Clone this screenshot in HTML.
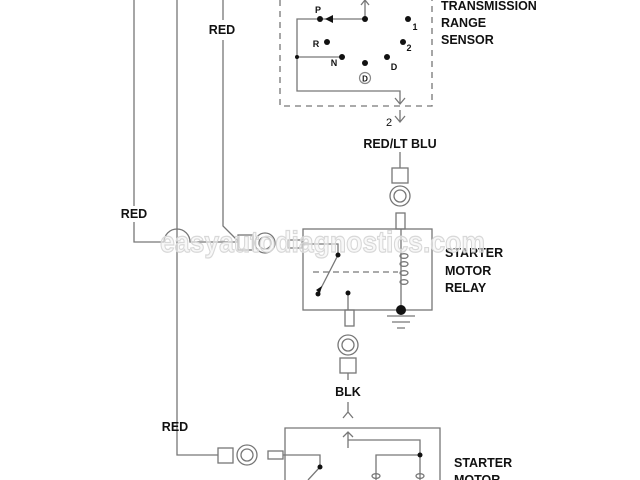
<!DOCTYPE html>
<html><head><meta charset="utf-8"><style>
html,body{margin:0;padding:0;background:#fff;}
svg{display:block;}
text{font-family:"Liberation Sans",Arial,sans-serif;font-weight:bold;fill:#111;}
</style></head><body>
<svg width="640" height="480" viewBox="0 0 640 480" xmlns="http://www.w3.org/2000/svg">
<g stroke="#777" stroke-width="1.3" fill="none">
<path d="M134 0 V206 M134 222 V242 H164"/>
<path d="M164 242 A13 13 0 0 1 190 242 H238"/>
<path d="M177 0 V455 H218"/>
<path d="M223 0 V20 M223 40 V226 L238 241"/>
<path d="M280 0 V106 H432 V0" stroke-dasharray="6,5"/>
<path d="M365 0 V19 H297 V91 H400 V104"/>
<path d="M297 57 H342"/>
<path d="M361 5 L365 0 L369 5"/>
<path d="M395 98 L400 104 L405 98"/>
<path d="M400 110 V122 M395 116 L400 122 L405 116"/>
<path d="M400 152 V168"/>
<rect x="392" y="168" width="16" height="15"/>
<circle cx="400" cy="196" r="10"/><circle cx="400" cy="196" r="6"/>
<rect x="396" y="213" width="9" height="16"/>
<rect x="303" y="229" width="129" height="81"/>
<rect x="238" y="235" width="15" height="15"/>
<circle cx="265" cy="243" r="10"/><circle cx="265" cy="243" r="6"/>
<rect x="288" y="240" width="14" height="8"/>
<path d="M302 244 H338 V255 L318 294"/>
<path d="M313 272 H398" stroke-dasharray="6,4"/>
<path d="M348 293 V310"/>
<path d="M401 229 V310"/>
<ellipse cx="404" cy="256" rx="4" ry="2.3"/><ellipse cx="404" cy="264" rx="4" ry="2.3"/>
<ellipse cx="404" cy="273" rx="4" ry="2.3"/><ellipse cx="404" cy="282" rx="4" ry="2.3"/>
<path d="M387 316 H415 M392 322 H410 M397 328 H405"/>
<rect x="345" y="310" width="9" height="16"/>
<circle cx="348" cy="345" r="10"/><circle cx="348" cy="345" r="6"/>
<rect x="340" y="358" width="16" height="15"/>
<path d="M348 373 V380"/>
<path d="M348 402 V412 M343 418 L348 412 L353 418"/>
<path d="M285 480 V428 H440 V480"/>
<path d="M348 448 V432 M343 437 L348 432 L353 437 M348 440 H420 V455 H376 V480"/>
<path d="M420 455 V480"/>
<rect x="218" y="448" width="15" height="15"/>
<circle cx="247" cy="455" r="10"/><circle cx="247" cy="455" r="6"/>
<rect x="268" y="451" width="15" height="8"/>
<path d="M283 455 H320 V467 L308 480"/>
<ellipse cx="376" cy="476" rx="4" ry="2.3"/><ellipse cx="420" cy="476" rx="4" ry="2.3"/>
</g>
<g fill="#111">
<circle cx="320" cy="19" r="3"/><circle cx="365" cy="19" r="3"/><circle cx="297" cy="57" r="2"/>
<circle cx="327" cy="42" r="3"/><circle cx="342" cy="57" r="3"/><circle cx="365" cy="63" r="3"/>
<circle cx="387" cy="57" r="3"/><circle cx="408" cy="19" r="3"/><circle cx="403" cy="42" r="3"/>
<path d="M325 19 L333 15 V23 Z"/>
<circle cx="338" cy="255" r="2.5"/><circle cx="318" cy="294" r="2.5"/><circle cx="348" cy="293" r="2.5"/>
<path d="M316 290 L322 286 L320 293 Z"/>
<circle cx="401" cy="310" r="5"/>
<circle cx="420" cy="455" r="2.5"/><circle cx="320" cy="467" r="2.5"/>
</g>
<circle cx="365" cy="78" r="5.5" fill="none" stroke="#888" stroke-width="1.2"/>
<text x="365" y="81.5" font-size="8" text-anchor="middle">D</text>
<text x="318" y="13" font-size="9" text-anchor="middle">P</text>
<text x="316" y="47" font-size="9" text-anchor="middle">R</text>
<text x="334" y="66" font-size="9" text-anchor="middle">N</text>
<text x="394" y="70" font-size="9" text-anchor="middle">D</text>
<text x="415" y="30" font-size="9" text-anchor="middle">1</text>
<text x="409" y="51" font-size="9" text-anchor="middle">2</text>
<text x="389" y="126" font-size="11" text-anchor="middle" style="font-weight:normal">2</text>
<g font-size="12.5">
<text x="441" y="10">TRANSMISSION</text>
<text x="441" y="27">RANGE</text>
<text x="441" y="44">SENSOR</text>
<text x="445" y="257">STARTER</text>
<text x="445" y="275">MOTOR</text>
<text x="445" y="292">RELAY</text>
<text x="454" y="467">STARTER</text>
<text x="454" y="484">MOTOR</text>
<text x="222" y="34" text-anchor="middle">RED</text>
<text x="134" y="218" text-anchor="middle">RED</text>
<text x="175" y="431" text-anchor="middle">RED</text>
<text x="400" y="148" text-anchor="middle">RED/LT BLU</text>
<text x="348" y="396" text-anchor="middle">BLK</text>
</g>
<text x="160" y="252" font-size="30" textLength="325" lengthAdjust="spacingAndGlyphs" stroke="#d8d8d8" stroke-width="1.2" style="font-weight:bold;fill:#f4f4f4;fill-opacity:0.6">easyautodiagnostics.com</text>
</svg>
</body></html>
